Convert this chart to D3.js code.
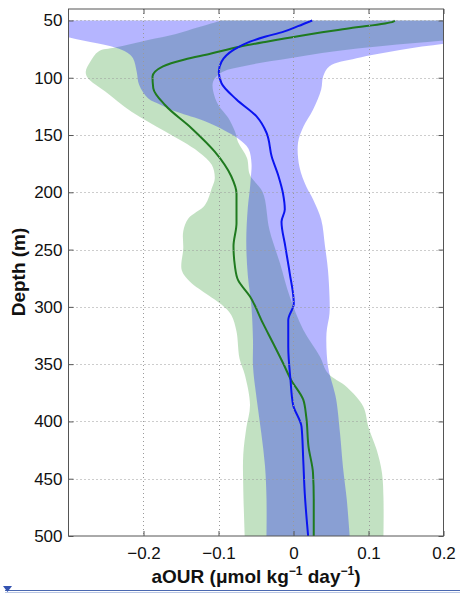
<!DOCTYPE html>
<html>
<head>
<meta charset="utf-8">
<script src="https://cdn.jsdelivr.net/npm/d3@7"></script>
<style>
  body { margin: 0; background: #fff; }
  svg { display: block; font-family: "Liberation Sans", Arial, sans-serif; }
</style>
</head>
<body>
<div id="chart"></div>
<script>
// depth ticks and x ticks
var depthTicks = [50, 100, 150, 200, 250, 300, 350, 400, 450, 500];
var xTicks = [-0.2, -0.1, 0, 0.1, 0.2];

// mean profiles: [depth, aOUR]
var blueMean = [[50, 0.025], [55, 0.006], [60, -0.014], [64, -0.037], [68.5, -0.058], [75.7, -0.080], [86, -0.096],
  [94.7, -0.0996], [104.8, -0.096], [119, -0.076], [134, -0.049], [148, -0.036], [169, -0.029], [186, -0.020],
  [201, -0.014], [215, -0.0116], [225.6, -0.016], [247, -0.011], [270.7, -0.005], [297, 0.0004], [311.5, -0.007],
  [334.7, -0.007], [363.8, -0.004], [385.6, -0.0005], [404.6, 0.0107], [433.6, 0.013], [462.7, 0.015], [500, 0.0195]];

var greenMean = [[50, 0.135], [51, 0.133], [56.8, 0.075], [63.5, 0.008], [68.5, -0.036], [72.9, -0.072], [79, -0.111],
  [84, -0.145], [90, -0.174], [99, -0.188], [109, -0.187], [124, -0.171], [144, -0.136], [164.5, -0.105],
  [186, -0.083], [201, -0.076], [227, -0.076], [247, -0.080], [265, -0.078], [276.5, -0.074], [291, -0.058],
  [314, -0.041], [332, -0.027], [349, -0.014], [364, -0.003], [381, 0.013], [396, 0.017], [422, 0.020],
  [445, 0.026], [468, 0.027], [500, 0.027]];

// band edges: [depth, aOUR]
var blueLow = [[50, -0.36], [58, -0.33], [64.7, -0.30], [70, -0.262], [73.7, -0.238], [78, -0.222], [83, -0.214],
  [95, -0.209], [106, -0.206], [118, -0.194], [124, -0.176], [130, -0.155], [138, -0.118], [146, -0.092],
  [153, -0.074], [162, -0.060], [175, -0.056], [188, -0.057], [196, -0.058], [214, -0.061], [243, -0.063],
  [272, -0.061], [301, -0.056], [330, -0.054], [352, -0.054], [381, -0.049], [410, -0.043], [439, -0.038],
  [468, -0.036], [500, -0.036]];
var blueHigh = [[50, 0.40], [60, 0.33], [66, 0.26], [70, 0.205], [75.7, 0.142], [83, 0.084], [90, 0.048],
  [99, 0.0395], [110, 0.037], [128, 0.026], [143, 0.013], [157, 0.006], [178, 0.008], [195, 0.017], [206, 0.026],
  [224, 0.037], [247, 0.042], [268, 0.046], [291, 0.048], [306, 0.048], [323, 0.044], [352, 0.046], [370, 0.053],
  [381, 0.057], [410, 0.062], [440, 0.066], [468, 0.071], [500, 0.075]];

var greenLow = [[50, -0.096], [52.5, -0.109], [56, -0.127], [62, -0.158], [67, -0.194], [73.7, -0.238], [77, -0.260],
  [86, -0.271], [94.7, -0.277], [100.5, -0.274], [112, -0.251], [129.6, -0.216], [147, -0.171], [164.5, -0.127],
  [176, -0.109], [188, -0.105], [196.5, -0.109], [211, -0.118], [222.7, -0.140], [234, -0.147], [249, -0.147],
  [268, -0.149], [278, -0.138], [289.6, -0.114], [298, -0.096], [307, -0.083], [321.6, -0.076], [345, -0.072],
  [359, -0.065], [385.6, -0.058], [406, -0.063], [429, -0.067], [458, -0.067], [500, -0.065]];
var greenHigh = [[50, 0.40], [60, 0.30], [67.6, 0.200], [72.3, 0.119], [77, 0.053], [83, -0.005], [89, -0.06],
  [95, -0.095], [103, -0.107], [112, -0.107], [124, -0.100], [135, -0.087], [147, -0.078], [156, -0.074],
  [170, -0.062], [185, -0.058], [200, -0.041], [233, -0.032], [262, -0.018], [291, -0.005], [320, 0.013],
  [343, 0.035], [358, 0.046], [370, 0.071], [387, 0.093], [405, 0.100], [425, 0.111], [445, 0.118],
  [468, 0.120], [500, 0.120]];

var W = 460, H = 595;
// plot box (note: "top" is taken by window.top, so prefix these)
var pLeft = 68.5, pRight = 443.5, pTop = 9, pBottom = 536;

var svg = d3.select("#chart").append("svg")
    .attr("width", W)
    .attr("height", H);

var x = d3.scaleLinear().domain([-0.3, 0.2]).range([pLeft, pRight]);
var y = d3.scaleLinear().domain([40, 500]).range([pTop, pBottom]);

svg.append("clipPath").attr("id", "plotclip")
  .append("rect")
    .attr("x", pLeft).attr("y", pTop)
    .attr("width", pRight - pLeft).attr("height", pBottom - pTop);

var edge = d3.line()
    .x(function (d) { return x(d[1]); })
    .y(function (d) { return y(d[0]); })
    .curve(d3.curveCatmullRom);

// left edge going down, right edge coming back up
function bandPath(lo, hi) {
    var a = edge(lo);
    var b = edge(hi.slice().reverse());
    return a + "L" + b.slice(1) + "Z";
}

var plot = svg.append("g").attr("clip-path", "url(#plotclip)");

plot.append("path")
    .attr("d", bandPath(greenLow, greenHigh))
    .attr("fill", "rgb(0,128,0)")
    .attr("fill-opacity", 0.24);

plot.append("path")
    .attr("d", bandPath(blueLow, blueHigh))
    .attr("fill", "rgb(0,0,255)")
    .attr("fill-opacity", 0.29);

// dotted grid
var grid = svg.append("g");
grid.selectAll(".gx")
    .data(xTicks.filter(function (d) { return d < 0.2; }))
    .enter().append("line")
    .attr("x1", function (d) { return Math.round(x(d)) + 0.5; })
    .attr("x2", function (d) { return Math.round(x(d)) + 0.5; })
    .attr("y1", pTop).attr("y2", pBottom)
    .attr("stroke", "#9a9a9a")
    .attr("stroke-dasharray", "1,3");
grid.selectAll(".gy")
    .data(depthTicks.filter(function (d) { return d < 500; }))
    .enter().append("line")
    .attr("y1", function (d) { return Math.round(y(d)) + 0.5; })
    .attr("y2", function (d) { return Math.round(y(d)) + 0.5; })
    .attr("x1", pLeft).attr("x2", pRight)
    .attr("stroke", "#9a9a9a")
    .attr("stroke-dasharray", "1,3");

var profile = d3.line()
    .x(function (d) { return x(d[1]); })
    .y(function (d) { return y(d[0]); })
    .curve(d3.curveMonotoneY);

plot.append("path")
    .attr("d", profile(greenMean))
    .attr("fill", "none")
    .attr("stroke", "#1f7a1f")
    .attr("stroke-width", 2);

plot.append("path")
    .attr("d", profile(blueMean))
    .attr("fill", "none")
    .attr("stroke", "#0a14f0")
    .attr("stroke-width", 2);

// axes, ticks pointing inward like matlab
var fmt = function (d) { return d === 0 ? "0" : d3.format(".1f")(d); };

var xAxis = svg.append("g")
    .attr("transform", "translate(0," + pBottom + ")")
    .call(d3.axisBottom(x).tickValues(xTicks).tickFormat(fmt).tickSize(-5).tickPadding(11));
var xTop = svg.append("g")
    .attr("transform", "translate(0," + pTop + ")")
    .call(d3.axisTop(x).tickValues(xTicks).tickFormat("").tickSize(-5));
var yAxis = svg.append("g")
    .attr("transform", "translate(" + pLeft + ",0)")
    .call(d3.axisLeft(y).tickValues(depthTicks).tickSize(-5).tickPadding(6));
var yRight = svg.append("g")
    .attr("transform", "translate(" + pRight + ",0)")
    .call(d3.axisRight(y).tickValues(depthTicks).tickFormat("").tickSize(-5));

[xAxis, xTop, yAxis, yRight].forEach(function (g) {
    g.select(".domain").remove();
    g.selectAll("line").attr("stroke", "#555");
    g.selectAll("text").attr("font-size", 17).attr("fill", "#111")
        .attr("font-family", "Liberation Sans, Arial, sans-serif");
});

svg.append("rect")
    .attr("x", pLeft).attr("y", pTop)
    .attr("width", pRight - pLeft).attr("height", pBottom - pTop)
    .attr("fill", "none")
    .attr("stroke", "#555")
    .attr("stroke-width", 1);

// axis labels
var xl = svg.append("text")
    .attr("x", (pLeft + pRight) / 2)
    .attr("y", 583)
    .attr("text-anchor", "middle")
    .attr("font-size", 19)
    .attr("font-weight", "bold")
    .attr("fill", "#111");
xl.append("tspan").text("aOUR (\u03bcmol kg");
xl.append("tspan").attr("font-size", 12).attr("dy", -8).text("\u22121");
xl.append("tspan").attr("dy", 8).text(" day");
xl.append("tspan").attr("font-size", 12).attr("dy", -8).text("\u22121");
xl.append("tspan").attr("dy", 8).text(")");

svg.append("text")
    .attr("transform", "translate(25,272) rotate(-90)")
    .attr("text-anchor", "middle")
    .attr("font-size", 19)
    .attr("font-weight", "bold")
    .attr("fill", "#111")
    .text("Depth (m)");

// the ruler strip along the bottom of the picture
svg.append("line").attr("x1", 5).attr("x2", 460).attr("y1", 590.5).attr("y2", 590.5)
    .attr("stroke", "#4a68b0");
svg.append("line").attr("x1", 5).attr("x2", 460).attr("y1", 592.5).attr("y2", 592.5)
    .attr("stroke", "#b9c6e4");
svg.append("path").attr("d", "M3,586L12,586L7.5,592Z").attr("fill", "#3352b0");
</script>
</body>
</html>
